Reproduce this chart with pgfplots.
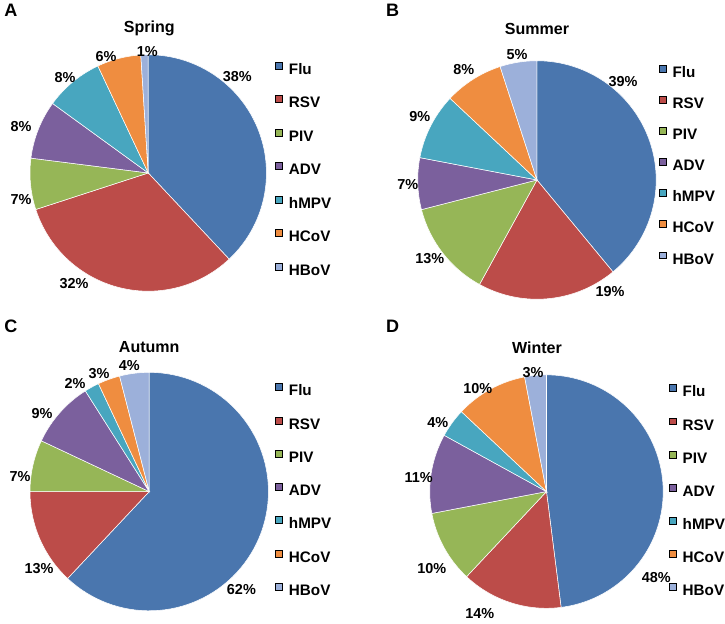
\documentclass[border=0pt]{standalone}
\usepackage{pgfplots}
\pgfplotsset{compat=1.18}
\usepackage{fontspec}
\setmainfont{Liberation Sans}
\definecolor{flu}{HTML}{4A76AE}
\definecolor{rsv}{HTML}{BC4C49}
\definecolor{piv}{HTML}{96B657}
\definecolor{adv}{HTML}{7B609D}
\definecolor{hmpv}{HTML}{48A6BF}
\definecolor{hcov}{HTML}{EF8D40}
\definecolor{hbov}{HTML}{9CB0DA}

\newcommand\labfont{\fontsize{10.8}{12}\selectfont\bfseries}
\newcommand\legfont{\fontsize{11.4}{13}\selectfont\bfseries}
\newcommand\titfont{\fontsize{12}{14}\selectfont\bfseries}
\newcommand\letfont{\fontsize{13.5}{16}\selectfont\bfseries}

% cx, cy, r, list value/colour (values in percent, clockwise from 12 o'clock)
\newcommand{\drawpie}[4]{%
  \gdef\pieacc{0}%
  \foreach \v/\c in {#4}{%
    \pgfmathsetmacro\pieend{\pieacc+\v}%
    \edef\temp{\noexpand\addplot[fill=\c, draw=white, line width=0.4pt, domain=\pieacc:\pieend, samples=80, variable=\noexpand\t, forget plot] ({#1+#3*sin(3.6*\noexpand\t)},{#2-#3*cos(3.6*\noexpand\t)}) -- (axis cs:#1,#2) -- cycle;}%
    \temp
    \xdef\pieacc{\pieend}%
  }%
}
\newcommand{\pielegend}{%
  \addlegendimage{fill=flu}\addlegendentry{Flu}
  \addlegendimage{fill=rsv}\addlegendentry{RSV}
  \addlegendimage{fill=piv}\addlegendentry{PIV}
  \addlegendimage{fill=adv}\addlegendentry{ADV}
  \addlegendimage{fill=hmpv}\addlegendentry{hMPV}
  \addlegendimage{fill=hcov}\addlegendentry{HCoV}
  \addlegendimage{fill=hbov}\addlegendentry{HBoV}
}
\pgfplotsset{
  pieax/.style={scale only axis, width=543.75pt, height=462pt,
    xmin=0, xmax=725, ymin=0, ymax=616, y dir=reverse,
    hide axis, clip=false, at={(0,0)}, anchor=south west,
    legend cell align=left,
    legend image code/.code={\fill[##1] (0pt,0pt) rectangle (5.2pt,5.2pt);},
    legend style={draw=none, fill=none, inner sep=0pt, outer sep=0pt,
      font=\legfont, column sep=4.5pt, anchor=north west,
      nodes={inner sep=0pt, text height=8pt, text depth=0pt}},
  }
}

\begin{document}
\begin{tikzpicture}
% ---------------- A: Spring
\begin{axis}[pieax, legend style={at={(axis cs:273,62)}, row sep=15.7pt}]
\drawpie{146}{173}{118}{38/flu,32/rsv,7/piv,8/adv,8/hmpv,6/hcov,1/hbov}
\pielegend
\node[font=\letfont] at (axis cs:9,11) {A};
\node[font=\titfont] at (axis cs:147,29) {Spring};
\node[font=\labfont] at (axis cs:235,77) {38\%};
\node[font=\labfont] at (axis cs:72,283) {32\%};
\node[font=\labfont] at (axis cs:19,200) {7\%};
\node[font=\labfont] at (axis cs:19,127) {8\%};
\node[font=\labfont] at (axis cs:63,78) {8\%};
\node[font=\labfont] at (axis cs:104,57) {6\%};
\node[font=\labfont] at (axis cs:145,52) {1\%};
\end{axis}
% ---------------- B: Summer
\begin{axis}[pieax, legend style={at={(axis cs:656,65)}, row sep=13.9pt}]
\drawpie{534}{180}{119}{39/flu,19/rsv,13/piv,7/adv,9/hmpv,8/hcov,5/hbov}
\pielegend
\node[font=\letfont] at (axis cs:390,11) {B};
\node[font=\titfont] at (axis cs:534,29) {Summer};
\node[font=\labfont] at (axis cs:620,82) {39\%};
\node[font=\labfont] at (axis cs:607,291) {19\%};
\node[font=\labfont] at (axis cs:427,258) {13\%};
\node[font=\labfont] at (axis cs:405,185) {7\%};
\node[font=\labfont] at (axis cs:417,117) {9\%};
\node[font=\labfont] at (axis cs:461,70) {8\%};
\node[font=\labfont] at (axis cs:514,55) {5\%};
\end{axis}
% ---------------- C: Autumn
\begin{axis}[pieax, legend style={at={(axis cs:273,383)}, row sep=15.5pt}]
\drawpie{147}{491}{119}{62/flu,13/rsv,7/piv,9/adv,2/hmpv,3/hcov,4/hbov}
\pielegend
\node[font=\letfont] at (axis cs:9,326) {C};
\node[font=\titfont] at (axis cs:147,347) {Autumn};
\node[font=\labfont] at (axis cs:239,589) {62\%};
\node[font=\labfont] at (axis cs:37,568) {13\%};
\node[font=\labfont] at (axis cs:18,476) {7\%};
\node[font=\labfont] at (axis cs:40,413) {9\%};
\node[font=\labfont] at (axis cs:73,383) {2\%};
\node[font=\labfont] at (axis cs:97,373) {3\%};
\node[font=\labfont] at (axis cs:127,365) {4\%};
\end{axis}
% ---------------- D: Winter
\begin{axis}[pieax, legend style={at={(axis cs:666,384)}, row sep=15.4pt}]
\drawpie{543.5}{491}{116.5}{48/flu,14/rsv,10/piv,11/adv,4/hmpv,10/hcov,3/hbov}
\pielegend
\node[font=\letfont] at (axis cs:390,326) {D};
\node[font=\titfont] at (axis cs:534,347) {Winter};
\node[font=\labfont] at (axis cs:653,577) {48\%};
\node[font=\labfont] at (axis cs:477,613) {14\%};
\node[font=\labfont] at (axis cs:429,568) {10\%};
\node[font=\labfont] at (axis cs:416,477) {11\%};
\node[font=\labfont] at (axis cs:435,422) {4\%};
\node[font=\labfont] at (axis cs:475,388) {10\%};
\node[font=\labfont] at (axis cs:530,372) {3\%};
\end{axis}
\end{tikzpicture}
\end{document}
